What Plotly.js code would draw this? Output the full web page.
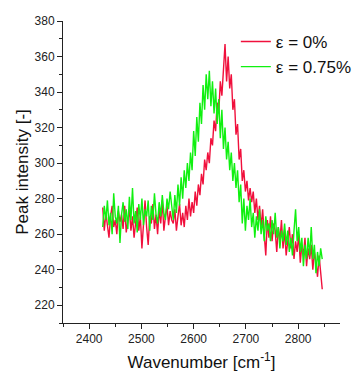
<!DOCTYPE html>
<html>
<head>
<meta charset="utf-8">
<script src="https://cdn.plot.ly/plotly-3.0.1.min.js"></script>
<style>html,body{margin:0;padding:0;background:#fff;}#chart{width:360px;height:372px;}</style>
</head>
<body>
<div id="chart"></div>
<script>
const wavenumber = [
2426,2429,2432,2435,2438,2441,2444,2447,2450,2453,2456,2459,2462,2465,2468,2471,2474,2477,2480,2483,
2486,2489,2492,2495,2498,2501,2504,2507,2510,2513,2516,2519,2522,2525,2528,2531,2534,2537,2540,2543,
2546,2549,2552,2555,2558,2561,2564,2567,2570,2573,2576,2579,2582,2585,2588,2591,2594,2597,2600,2603,
2606,2609,2612,2615,2618,2621,2624,2627,2630,2633,2636,2639,2642,2645,2648,2651,2654,2657,2660,2663,
2666,2669,2672,2675,2678,2681,2684,2687,2690,2693,2696,2699,2702,2705,2708,2711,2714,2717,2720,2723,
2726,2729,2732,2735,2738,2741,2744,2747,2750,2753,2756,2759,2762,2765,2768,2771,2774,2777,2780,2783,
2786,2789,2792,2795,2798,2801,2804,2807,2810,2813,2816,2819,2822,2825,2828,2831,2834,2837,2840,2843,
2846];

const strain0 = [
275,262,272,266,258,270,276,264,268,260,273,267,271,263,276,261,269,274,262,270,
258,266,275,262,270,252,268,279,264,254,270,266,277,263,271,260,274,266,279,262,
270,276,265,273,268,266,274,262,270,277,265,272,264,276,268,280,270,278,272,284,
276,288,282,294,288,302,296,306,300,314,310,324,318,334,328,346,338,356,367,346,
360,342,350,330,336,316,322,302,308,290,296,284,290,279,286,278,284,272,280,268,
276,264,274,260,248,268,258,270,256,266,262,250,264,256,268,252,262,248,258,264,
252,260,246,256,250,260,244,254,248,258,242,252,246,254,240,250,244,236,248,238,
229];

const strain075 = [
264,276,268,279,265,272,260,283,270,266,276,255,271,278,267,274,263,281,268,286,
266,273,261,277,268,280,265,274,270,279,262,276,268,283,271,266,278,270,282,272,
268,280,274,284,276,268,282,272,288,276,292,280,296,286,300,290,306,296,318,304,
326,312,334,322,344,330,350,336,352,332,346,328,342,322,336,314,330,308,320,302,
312,296,306,290,300,286,296,278,288,266,280,262,276,268,280,264,272,258,270,262,
274,260,268,256,270,262,266,256,268,260,272,258,264,252,262,256,266,254,262,250,
258,248,262,274,256,264,250,258,242,254,246,258,248,264,246,254,238,250,242,252,
246];

const seriesNames = ['\u03b5 = 0%', '\u03b5 = 0.75%'];
const seriesColors = ['#f0103c', '#10f010'];

const font = 'Liberation Sans, Arial, sans-serif';

const traces = [
  {x: wavenumber, y: strain0, type: 'scatter', mode: 'lines', name: seriesNames[0],
   line: {color: seriesColors[0], width: 1.4}},
  {x: wavenumber, y: strain075, type: 'scatter', mode: 'lines', name: seriesNames[1],
   line: {color: seriesColors[1], width: 1.4}}
];

const axisCommon = {
  showgrid: false, zeroline: false, showline: true, linecolor: '#222', linewidth: 1,
  ticks: 'outside', ticklen: 5, tickcolor: '#222', tickwidth: 1,
  tickfont: {family: font, size: 12, color: '#222'}
};

const layout = {
  width: 360, height: 372,
  margin: {l: 63, r: 3, t: 21, b: 49},
  paper_bgcolor: '#fff', plot_bgcolor: '#fff',
  showlegend: true,
  legend: {x: 0.624, y: 0.99, xanchor: 'left', yanchor: 'top', bgcolor: 'rgba(0,0,0,0)',
           font: {family: font, size: 17, color: '#111'}, tracegroupgap: 0},
  xaxis: Object.assign({}, axisCommon, {
    range: [2350, 2880], tick0: 2400, dtick: 100,
    minor: {ticks: 'outside', ticklen: 3, dtick: 50, tick0: 2350, tickcolor: '#222'},
    title: {text: 'Wavenumber [cm<sup>-1</sup>]', font: {family: font, size: 17, color: '#111'}, standoff: 11}
  }),
  yaxis: Object.assign({}, axisCommon, {
    range: [210, 380], tick0: 220, dtick: 20,
    minor: {ticks: 'outside', ticklen: 3, dtick: 10, tick0: 210, tickcolor: '#222'},
    title: {text: 'Peak intensity [-]', font: {family: font, size: 17, color: '#111'}, standoff: 1}
  })
};

Plotly.newPlot('chart', traces, layout, {staticPlot: true, displayModeBar: false});
</script>
</body>
</html>
